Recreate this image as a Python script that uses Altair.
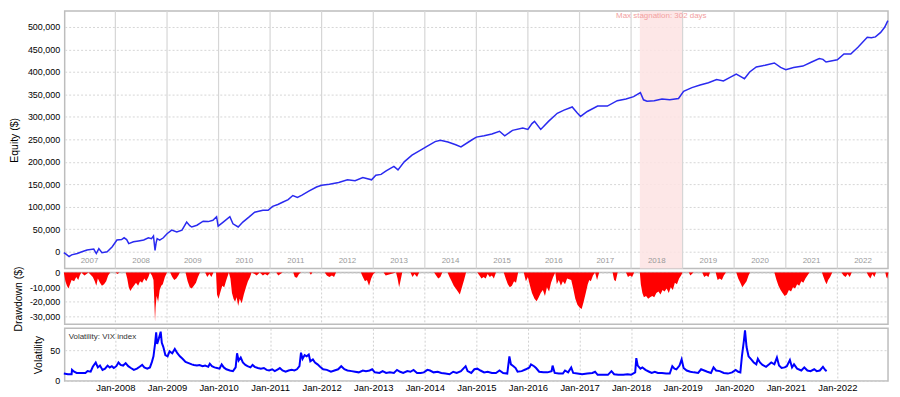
import altair as alt
import pandas as pd
from datetime import datetime, timedelta

# ---------------- data ----------------
# Equity curve: time (fractional year) and equity in thousands of $
eq_t = [2007.00, 2007.05, 2007.10, 2007.15, 2007.26, 2007.35, 2007.45, 2007.58, 2007.63, 2007.68,
        2007.74, 2007.84, 2007.94,
        2008.03, 2008.12, 2008.17, 2008.22, 2008.26, 2008.35, 2008.45, 2008.55, 2008.64, 2008.70,
        2008.74, 2008.77, 2008.79, 2008.81, 2008.86, 2008.93,
        2009.00, 2009.09, 2009.19, 2009.29, 2009.38, 2009.44, 2009.48, 2009.58, 2009.70, 2009.80,
        2009.89, 2009.96, 2009.99,
        2010.09, 2010.22, 2010.28, 2010.38, 2010.47, 2010.60, 2010.70, 2010.86, 2010.96,
        2011.05, 2011.15, 2011.24, 2011.35, 2011.44, 2011.53, 2011.62, 2011.75, 2011.90,
        2012.00, 2012.15, 2012.33, 2012.50, 2012.65, 2012.80, 2012.97,
        2013.05, 2013.15, 2013.25, 2013.40, 2013.48, 2013.60, 2013.75, 2013.90,
        2014.05, 2014.20, 2014.30, 2014.45, 2014.60, 2014.70, 2014.90,
        2015.00, 2015.15, 2015.30, 2015.45, 2015.55, 2015.70, 2015.90,
        2016.00, 2016.08, 2016.13, 2016.25, 2016.40, 2016.57, 2016.70, 2016.86, 2016.95,
        2017.02, 2017.15, 2017.35, 2017.54, 2017.73, 2017.90,
        2018.05, 2018.18, 2018.24, 2018.31, 2018.45, 2018.60, 2018.75, 2018.92,
        2019.02, 2019.18, 2019.34, 2019.50, 2019.66, 2019.79, 2019.92,
        2020.04, 2020.12, 2020.20, 2020.30, 2020.43, 2020.60, 2020.78, 2020.90,
        2021.00, 2021.15, 2021.33, 2021.50, 2021.65, 2021.72, 2021.78, 2021.90,
        2022.00, 2022.13, 2022.26, 2022.40, 2022.58, 2022.66, 2022.74, 2022.84, 2022.92, 2022.98]
eq_k = [-2, -6, -11, -7, -4, 0, 4, 6, -4, 7,
        -2, 0, 11,
        26, 27, 31, 27, 18, 22, 24, 26, 31, 29,
        35, 3, 20, 29, 26, 31,
        40, 48, 44, 48, 66, 58, 55, 59, 68, 67,
        70, 78, 57,
        66, 78, 62, 55, 66, 78, 88, 92, 92,
        101, 105, 110, 116, 125, 121, 126, 135, 144,
        148, 150, 154, 160, 158, 165, 160,
        170, 172, 180, 190, 182, 200, 215, 225,
        235, 245, 248, 244, 238, 233, 248,
        255, 258, 262, 268, 258, 270, 275,
        272, 285, 290, 272, 290, 308, 315, 322, 310,
        301, 312, 324, 324, 336, 340,
        345, 354, 338, 335, 336, 340, 338, 341,
        357, 365, 371, 376, 383, 380, 388,
        395, 390, 385, 400, 411, 415, 420, 410,
        405, 410, 413, 422, 430, 428, 422, 425,
        427, 440, 440, 455, 477, 476, 478, 488, 500, 514]

# Drawdown: time (fractional year) and drawdown in thousands of $
dd_t = [2007.00, 2007.03, 2007.06, 2007.09, 2007.12, 2007.15, 2007.20, 2007.24, 2007.28, 2007.31,
        2007.34, 2007.40, 2007.44, 2007.48, 2007.56, 2007.60, 2007.63, 2007.66, 2007.70, 2007.74,
        2007.78, 2007.82, 2007.86, 2007.90, 2008.00, 2008.04, 2008.08, 2008.20, 2008.23, 2008.26,
        2008.29, 2008.32, 2008.36, 2008.40, 2008.44, 2008.48, 2008.52, 2008.56, 2008.60, 2008.64,
        2008.67, 2008.71, 2008.74, 2008.755, 2008.77, 2008.78, 2008.80, 2008.83, 2008.86, 2008.89,
        2008.92, 2008.96, 2009.00, 2009.06, 2009.10, 2009.14, 2009.18, 2009.22, 2009.25, 2009.36,
        2009.40, 2009.44, 2009.48, 2009.52, 2009.56, 2009.60, 2009.64, 2009.74, 2009.78, 2009.82,
        2009.86, 2009.90, 2009.95, 2009.97, 2010.00, 2010.03, 2010.07, 2010.11, 2010.15, 2010.20,
        2010.23, 2010.26, 2010.29, 2010.32, 2010.35, 2010.38, 2010.41, 2010.45, 2010.49, 2010.53,
        2010.57, 2010.61, 2010.64, 2010.70, 2010.74, 2010.80, 2010.86, 2010.90, 2010.95, 2011.00,
        2011.12, 2011.16, 2011.20, 2011.24, 2011.45, 2011.48, 2011.52, 2011.56, 2011.60, 2011.76,
        2011.79, 2011.82, 2012.06, 2012.10, 2012.15, 2012.20, 2012.24, 2012.28, 2012.76, 2012.80,
        2012.84, 2012.88, 2012.92, 2012.96, 2013.00, 2013.04, 2013.20, 2013.24, 2013.44, 2013.47,
        2013.50, 2013.53, 2013.56, 2013.72, 2013.76, 2013.80, 2013.85, 2013.89, 2014.18, 2014.22,
        2014.26, 2014.30, 2014.34, 2014.44, 2014.48, 2014.52, 2014.56, 2014.60, 2014.64, 2014.68,
        2014.72, 2014.76, 2014.80, 2015.02, 2015.06, 2015.10, 2015.14, 2015.18, 2015.22, 2015.26,
        2015.30, 2015.34, 2015.38, 2015.53, 2015.57, 2015.61, 2015.65, 2015.69, 2015.73, 2015.77,
        2015.81, 2015.92, 2015.96, 2016.00, 2016.04, 2016.08, 2016.13, 2016.17, 2016.21, 2016.25,
        2016.29, 2016.33, 2016.37, 2016.41, 2016.45, 2016.49, 2016.53, 2016.56, 2016.60, 2016.64,
        2016.68, 2016.72, 2016.76, 2016.84, 2016.88, 2016.92, 2016.96, 2017.00, 2017.04, 2017.08,
        2017.12, 2017.16, 2017.19, 2017.22, 2017.26, 2017.30, 2017.34, 2017.38, 2017.64, 2017.67,
        2017.70, 2017.74, 2017.90, 2017.94, 2017.98, 2018.02, 2018.06, 2018.17, 2018.19, 2018.22,
        2018.25, 2018.29, 2018.33, 2018.37, 2018.41, 2018.45, 2018.49, 2018.53, 2018.57, 2018.61,
        2018.65, 2018.69, 2018.73, 2018.77, 2018.81, 2018.85, 2018.89, 2018.93, 2018.97, 2019.00,
        2019.12, 2019.15, 2019.18, 2019.21, 2019.38, 2019.42, 2019.46, 2019.50, 2019.53, 2019.64,
        2019.68, 2019.72, 2019.76, 2019.80, 2019.84, 2020.04, 2020.08, 2020.12, 2020.16, 2020.20,
        2020.24, 2020.28, 2020.31, 2020.78, 2020.82, 2020.86, 2020.90, 2020.94, 2020.98, 2021.02,
        2021.06, 2021.10, 2021.14, 2021.18, 2021.22, 2021.26, 2021.30, 2021.34, 2021.38, 2021.42,
        2021.46, 2021.70, 2021.73, 2021.76, 2021.79, 2021.82, 2021.86, 2021.90, 2022.08, 2022.12,
        2022.16, 2022.20, 2022.24, 2022.28, 2022.57, 2022.60, 2022.64, 2022.68, 2022.72, 2022.75,
        2022.93, 2022.95, 2022.97, 2022.99]
dd_k = [0, -6, -9, -11, -8, -5, -6, -3, -5, -2,
        0, -2, -1, 0, -3, -6, -9, -4, -7, -9,
        -8, -6, -2, 0, 0, -1, 0, 0, -4, -10,
        -12.6, -11, -9, -7, -9, -6, -7, -4, -6, -3,
        0, -2, -5, -20, -33.6, -24, -16, -20, -12, -9,
        -8, -3, 0, 0, -3, -5, -4, -2, 0, 0,
        -6, -10, -11, -9, -7, -3, 0, 0, -3, -1,
        -3, 0, 0, -15, -18, -14, -9, -10, -5, 0,
        -4, -14, -18, -20, -17, -23, -18, -21, -15, -10,
        -6, -3, 0, -1, -2, 0, -2, -1, -2, 0,
        0, -2, -1, 0, 0, -3, -3.5, -1, 0, 0,
        -1.5, 0, 0, -2, -3, -2, -3, 0, 0, -3,
        -6, -5, -9, -4, -1, 0, 0, -2, 0, -4,
        -10, -5, 0, 0, -3, -1, -3, 0, 0, -2,
        -4, -3, 0, 0, -3, -6, -9, -11, -13, -15,
        -10, -5, 0, 0, -2, -4, -3, -4, -1, -3,
        -2, -4, 0, 0, -4, -8, -10, -9, -6, -7,
        0, 0, -6, -3, -9, -14, -18, -19.6, -17, -14,
        -12, -16, -10, -13, -7, -3, 0, -8, -5, -9,
        -6, -8, -4, -5, -11, -18, -22, -24, -25, -20,
        -14, -8, -5, -6, -2, 0, -5, 0, 0, -5,
        -6, 0, 0, -3, -2, -3, 0, 0, -8, -14,
        -17, -16, -18, -17, -16, -17, -14, -13, -15, -12,
        -13, -11, -14, -10, -12, -7, -8, -4, -2, 0,
        0, -2, -1, 0, 0, -3, -2, -3, 0, 0,
        -5, -4, -5, -2, 0, 0, -4, -7, -10, -8,
        -6, -2, 0, 0, -5, -9, -12, -14, -16, -15,
        -12, -13, -10, -11, -8, -9, -6, -7, -4, -2,
        0, 0, -3, -6, -8, -5, -3, 0, 0, -2,
        -3, -1, -3, 0, 0, -2, -4, -1, -3, 0,
        0, -3, -4, 0]

# VIX index: time (fractional year) and level
vix_t = [2007.00, 2007.08, 2007.15, 2007.16, 2007.20, 2007.25, 2007.33, 2007.42, 2007.46, 2007.52,
         2007.56, 2007.62, 2007.66, 2007.70, 2007.75, 2007.80, 2007.85, 2007.89, 2007.93, 2007.97,
         2008.02, 2008.06, 2008.10, 2008.15, 2008.20, 2008.25, 2008.30, 2008.36, 2008.42, 2008.47,
         2008.52, 2008.56, 2008.62, 2008.67, 2008.71, 2008.74, 2008.77, 2008.79, 2008.81, 2008.84,
         2008.88, 2008.90, 2008.93, 2008.97,
         2009.01, 2009.05, 2009.10, 2009.15, 2009.20, 2009.25, 2009.30, 2009.36, 2009.42, 2009.48,
         2009.52, 2009.58, 2009.63, 2009.69, 2009.74, 2009.80, 2009.83, 2009.87, 2009.92, 2009.97,
         2010.02, 2010.06, 2010.10, 2010.15, 2010.22, 2010.28, 2010.33, 2010.36, 2010.39, 2010.43,
         2010.47, 2010.52, 2010.56, 2010.62, 2010.66, 2010.70, 2010.76, 2010.82, 2010.88, 2010.93,
         2010.98,
         2011.04, 2011.09, 2011.15, 2011.19, 2011.24, 2011.30, 2011.36, 2011.42, 2011.47, 2011.52,
         2011.57, 2011.60, 2011.63, 2011.67, 2011.71, 2011.75, 2011.78, 2011.83, 2011.87, 2011.92,
         2011.97,
         2012.03, 2012.10, 2012.18, 2012.25, 2012.32, 2012.38, 2012.44, 2012.50, 2012.58, 2012.65,
         2012.72, 2012.80, 2012.86, 2012.93, 2012.98,
         2013.03, 2013.12, 2013.18, 2013.25, 2013.32, 2013.40, 2013.46, 2013.52, 2013.58, 2013.66,
         2013.72, 2013.78, 2013.85, 2013.92, 2013.98,
         2014.05, 2014.10, 2014.17, 2014.25, 2014.32, 2014.40, 2014.48, 2014.55, 2014.62, 2014.70,
         2014.79, 2014.83, 2014.90, 2014.96,
         2015.02, 2015.08, 2015.15, 2015.22, 2015.30, 2015.38, 2015.45, 2015.52, 2015.60, 2015.64,
         2015.67, 2015.72, 2015.76, 2015.80, 2015.88, 2015.96,
         2016.03, 2016.06, 2016.12, 2016.16, 2016.22, 2016.30, 2016.38, 2016.46, 2016.48, 2016.52,
         2016.60, 2016.68, 2016.72, 2016.78, 2016.84, 2016.88, 2016.96,
         2017.05, 2017.15, 2017.25, 2017.30, 2017.35, 2017.45, 2017.55, 2017.62, 2017.67, 2017.75,
         2017.85, 2017.93,
         2018.00, 2018.08, 2018.10, 2018.13, 2018.18, 2018.22, 2018.28, 2018.35, 2018.40, 2018.46,
         2018.52, 2018.60, 2018.68, 2018.75, 2018.80, 2018.84, 2018.88, 2018.94, 2018.98,
         2019.02, 2019.08, 2019.15, 2019.22, 2019.30, 2019.36, 2019.42, 2019.48, 2019.55, 2019.60,
         2019.65, 2019.72, 2019.80, 2019.88, 2019.96,
         2020.03, 2020.08, 2020.12, 2020.15, 2020.19, 2020.21, 2020.24, 2020.28, 2020.33, 2020.38,
         2020.43, 2020.46, 2020.50, 2020.55, 2020.62, 2020.68, 2020.72, 2020.78, 2020.83, 2020.87,
         2020.92, 2020.98,
         2021.02, 2021.08, 2021.12, 2021.16, 2021.22, 2021.30, 2021.36, 2021.42, 2021.48, 2021.55,
         2021.60, 2021.66, 2021.72, 2021.76, 2021.79]
vix_v = [12, 11, 11, 18, 15, 13, 13, 13, 16, 15,
         23, 30, 22, 25, 18, 20, 25, 22, 24, 21,
         24, 30, 26, 25, 29, 24, 21, 18, 20, 23,
         26, 22, 20, 22, 31, 40, 60, 79, 60, 68,
         80, 62, 55, 42,
         40, 48, 45, 52, 45, 40, 36, 31, 29, 27,
         26, 25, 26, 24, 25, 23, 28, 24, 22, 21,
         20, 27, 22, 19, 17, 16, 22, 45, 33, 38,
         30, 26, 24, 22, 26, 23, 21, 20, 21, 18,
         17,
         19, 16, 19, 21, 17, 15, 17, 18, 17, 19,
         24, 46, 36, 42, 40, 43, 32, 35, 30, 27,
         23,
         19, 18, 15, 17, 19, 24, 19, 17, 16, 15,
         14, 17, 16, 17, 19,
         14, 13, 16, 13, 14, 13, 18, 15, 13, 16,
         15, 18, 13, 13, 14,
         18, 17, 14, 15, 13, 12, 11, 15, 13, 16,
         24, 16, 13, 19,
         20, 17, 14, 15, 13, 13, 17, 13, 12, 40,
         27, 24, 21, 15, 16, 19,
         22, 27, 24, 21, 15, 14, 14, 16, 25, 13,
         12, 12, 17, 14, 22, 13, 12,
         11, 12, 13, 15, 10, 10, 10, 16, 11, 10,
         10, 11,
         10, 14, 37, 25, 20, 22, 18, 15, 13, 15,
         13, 13, 12, 12, 24, 20, 19, 25, 35,
         21, 17, 15, 14, 13, 19, 17, 15, 13, 22,
         17, 16, 13, 12, 14,
         18, 15, 14, 40, 65, 82, 55, 40, 35, 30,
         27, 36, 30, 26, 23, 27, 30, 27, 38, 25,
         21, 22,
         24, 34, 22, 27, 20, 17, 22, 17, 16, 19,
         16, 17, 23, 18, 16]

year_labels = list(range(2007, 2023))
grid_years = list(range(2008, 2023))
stag_start, stag_end = 2018.17, 2019.00
stag_text = "Max stagnation: 302 days"
vol_label = "Volatility: VIX index"


def to_date(f):
    y = int(f)
    d = datetime(y, 1, 1) + timedelta(days=round((f - y) * 365.25))
    return d.strftime("%Y-%m-%d")


eq_df = pd.DataFrame({"date": [to_date(t) for t in eq_t], "equity": [v * 1000 for v in eq_k]})
dd_df = pd.DataFrame({"date": [to_date(t) for t in dd_t], "dd": [v * 1000 for v in dd_k]})
vix_df = pd.DataFrame({"date": [to_date(t) for t in vix_t], "vix": vix_v})
yr_df = pd.DataFrame({"date": [f"{y}-07-02" for y in year_labels], "label": [str(y) for y in year_labels]})
grid_df = pd.DataFrame({"date": [f"{y}-01-01" for y in grid_years]})
stag_df = pd.DataFrame({"start": [to_date(stag_start)], "end": [to_date(stag_end)],
                        "mid": [to_date((stag_start + stag_end) / 2)], "label": [stag_text]})
lab_df = pd.DataFrame({"label": [vol_label]})

# ---------------- layout ----------------
W = 828
H_TOP, H_DD, H_VOL = 259, 52, 53
FONT = "Liberation Sans"

xscale = alt.Scale(type="utc", domain=[alt.DateTime(year=2007, month=1, date=7, utc=True),
                                       alt.DateTime(year=2022, month=12, date=26, utc=True)])
jan_vals = [alt.DateTime(year=y, month=1, date=1, utc=True) for y in grid_years]

# ---- top panel: equity ----
stag_rect = alt.Chart(stag_df).mark_rect(color="#fde3e3", opacity=0.85).encode(
    x=alt.X("start:T", scale=xscale, axis=None),
    x2="end:T",
    y=alt.value(0), y2=alt.value(H_TOP))
top_grid = alt.Chart(grid_df).mark_rule(color="#d6d6d6", strokeWidth=1.2).encode(
    x=alt.X("date:T", scale=xscale, axis=None))
stag_lbl = alt.Chart(stag_df).mark_text(color="#f2a0a0", fontSize=8, font=FONT,
                                        baseline="middle", align="center").encode(
    x=alt.X("mid:T", scale=xscale, axis=None), y=alt.value(5), text="label:N")
year_txt = alt.Chart(yr_df).mark_text(color="#9a9a9a", fontSize=8, font=FONT,
                                      baseline="middle", align="center").encode(
    x=alt.X("date:T", scale=xscale, axis=None), y=alt.value(251), text="label:N")
eq_line = alt.Chart(eq_df).mark_line(color="#2a2af0", strokeWidth=1.5).encode(
    x=alt.X("date:T", scale=xscale, axis=None),
    y=alt.Y("equity:Q",
            scale=alt.Scale(domain=[-37600, 535400], nice=False, zero=False),
            axis=alt.Axis(values=list(range(0, 500001, 50000)), format=",.0f", title="Equity ($)",
                          grid=True, gridDash=[2, 2], gridColor="#d6d6d6", ticks=False,
                          domain=False, labelPadding=5, titlePadding=8)))
top = alt.layer(stag_rect, top_grid, eq_line, stag_lbl, year_txt).properties(width=W, height=H_TOP)

# ---- drawdown panel ----
dd_grid = alt.Chart(grid_df).mark_rule(color="#d0d0d0", strokeDash=[2, 2]).encode(
    x=alt.X("date:T", scale=xscale, axis=None))
dd_area = alt.Chart(dd_df).mark_area(color="#ff0000", interpolate="linear").encode(
    x=alt.X("date:T", scale=xscale, axis=None),
    y=alt.Y("dd:Q", scale=alt.Scale(domain=[-35500, 0], nice=False, zero=False),
            axis=alt.Axis(values=[0, -10000, -20000, -30000],
                          labelExpr="datum.value < 0 ? '-' + format(-datum.value, ',.0f') : format(datum.value, ',.0f')",
                          title="Drawdown ($)", grid=True, gridDash=[2, 2], gridColor="#d6d6d6",
                          ticks=False, domain=False, labelPadding=5, titlePadding=6)),
    y2=alt.datum(0))
ddc = alt.layer(dd_grid, dd_area).properties(width=W, height=H_DD)

# ---- volatility panel ----
vix_line = alt.Chart(vix_df).mark_line(color="#0000ff", strokeWidth=2).encode(
    x=alt.X("date:T", scale=xscale,
            axis=alt.Axis(values=jan_vals, format="%b-%Y", grid=True,
                          gridColor="#d0d0d0", gridDash=[2, 2], ticks=False, domain=False,
                          labelPadding=2, title=None, labelFontSize=9.5)),
    y=alt.Y("vix:Q", scale=alt.Scale(domain=[0, 85.5], nice=False, zero=False),
            axis=alt.Axis(values=[0, 50], title="Volatility", grid=True, gridDash=[2, 2],
                          gridColor="#d6d6d6", ticks=False, domain=False, labelPadding=5,
                          titlePadding=6)))
vol_lbl = alt.Chart(lab_df).mark_text(color="#333333", fontSize=8, font=FONT, align="left",
                                      baseline="middle").encode(
    x=alt.value(4), y=alt.value(9), text="label:N")
volc = alt.layer(vix_line, vol_lbl).properties(width=W, height=H_VOL)

chart = alt.vconcat(top, ddc, volc, spacing=4, bounds="flush").properties(
    padding={"left": 0, "right": 0, "top": 0, "bottom": 0},
    background="white"
).configure_view(
    stroke="#bdbdbd", strokeWidth=1.5
).configure_axis(
    labelFont=FONT, titleFont=FONT, labelFontSize=9, labelColor="#000000",
    titleFontSize=10.5, titleFontWeight="normal", titleColor="#000000"
).configure_text(font=FONT)

chart.save("out.html", embed_options={"renderer": "svg", "actions": False})
